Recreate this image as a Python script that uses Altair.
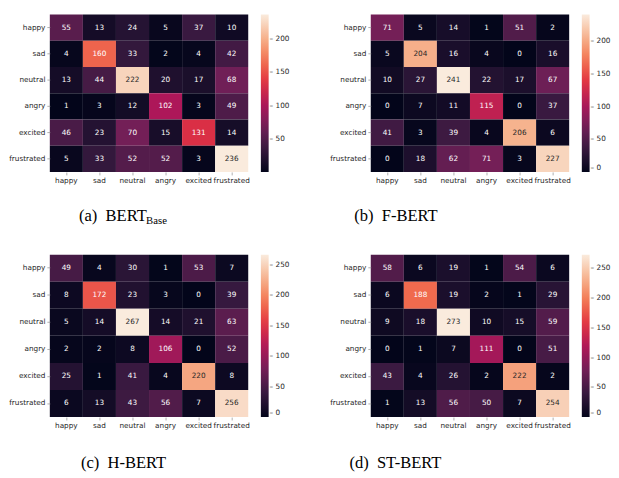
import altair as alt
import pandas as pd

LABELS = ["happy", "sad", "neutral", "angry", "excited", "frustrated"]

BERT_BASE = [[55, 13, 24, 5, 37, 10],
             [4, 160, 33, 2, 4, 42],
             [13, 44, 222, 20, 17, 68],
             [1, 3, 12, 102, 3, 49],
             [46, 23, 70, 15, 131, 14],
             [5, 33, 52, 52, 3, 236]]
F_BERT = [[71, 5, 14, 1, 51, 2],
          [5, 204, 16, 4, 0, 16],
          [10, 27, 241, 22, 17, 67],
          [0, 7, 11, 115, 0, 37],
          [41, 3, 39, 4, 206, 6],
          [0, 18, 62, 71, 3, 227]]
H_BERT = [[49, 4, 30, 1, 53, 7],
          [8, 172, 23, 3, 0, 39],
          [5, 14, 267, 14, 21, 63],
          [2, 2, 8, 106, 0, 52],
          [25, 1, 41, 4, 220, 8],
          [6, 13, 43, 56, 7, 256]]
ST_BERT = [[58, 6, 19, 1, 54, 6],
           [6, 188, 19, 2, 1, 29],
           [9, 18, 273, 10, 15, 59],
           [0, 1, 7, 111, 0, 51],
           [43, 4, 26, 2, 222, 2],
           [1, 13, 56, 50, 7, 254]]

LEGEND_TICKS = [[50, 100, 150, 200],
                [0, 50, 100, 150, 200],
                [0, 50, 100, 150, 200, 250],
                [0, 50, 100, 150, 200, 250]]

CAPTIONS = [("(a)\u2002BERT", "Base"),
            ("(b)\u2002F-BERT", ""),
            ("(c)\u2002H-BERT", ""),
            ("(d)\u2002ST-BERT", "")]

# seaborn "rocket" colormap stops
ROCKET = ["#03051a", "#35193e", "#701f57", "#ad1759",
          "#e13342", "#f37651", "#f6b48f", "#faebdd"]

TXT = "#262626"
FONT = "DejaVu Sans"
SERIF = "Liberation Serif"


def panel(matrix, ticks, caption, h, cap_x, cap_y, sub_x):
    rows = []
    for i, actual in enumerate(LABELS):
        for j, pred in enumerate(LABELS):
            rows.append({"actual": actual, "pred": pred, "n": matrix[i][j]})
    df = pd.DataFrame(rows)
    lo, hi = int(df.n.min()), int(df.n.max())
    df["frac"] = (df.n - lo) / (hi - lo)
    dom = [lo + (hi - lo) * k / 7 for k in range(8)]

    axis_common = dict(labelFontSize=7.5, labelFont=FONT, labelColor=TXT,
                       domain=False, tickSize=3, tickColor="#999999",
                       tickWidth=0.8, labelPadding=2, title=None)
    base = alt.Chart(df).encode(
        x=alt.X("pred:N", sort=LABELS, title=None,
                scale=alt.Scale(paddingInner=0, paddingOuter=0),
                axis=alt.Axis(labelAngle=0, **axis_common)),
        y=alt.Y("actual:N", sort=LABELS, title=None,
                scale=alt.Scale(paddingInner=0, paddingOuter=0),
                axis=alt.Axis(**axis_common)),
    )
    rect = base.mark_rect().encode(
        color=alt.Color(
            "n:Q",
            scale=alt.Scale(domain=dom, range=ROCKET, interpolate="rgb"),
            legend=alt.Legend(values=ticks, title=None, orient="right",
                              direction="vertical", offset=13,
                              gradientLength=h, gradientThickness=8,
                              gradientStrokeWidth=0, labelFontSize=7.5,
                              labelFont=FONT, labelColor=TXT,
                              labelBaseline="middle", labelOffset=1,
                              labelExpr="'\u2013 ' + datum.label",
                              padding=0)))
    text = base.mark_text(font=FONT, fontSize=7.5).encode(
        text="n:Q",
        color=alt.condition("datum.frac > 0.76", alt.value(TXT), alt.value("white")))

    main, sub = caption
    cap = alt.Chart(pd.DataFrame({"t": [main]})).mark_text(
        align="left", baseline="alphabetic", font=SERIF,
        fontSize=17, color="black").encode(
        x=alt.value(cap_x), y=alt.value(cap_y), text="t:N")
    layers = [rect, text, cap]
    if sub:
        sc = alt.Chart(pd.DataFrame({"t": [sub]})).mark_text(
            align="left", baseline="alphabetic", font=SERIF,
            fontSize=11, color="black").encode(
            x=alt.value(sub_x), y=alt.value(cap_y + 3), text="t:N")
        layers.append(sc)
    return alt.layer(*layers).properties(width=204, height=h)


pa = panel(BERT_BASE, LEGEND_TICKS[0], CAPTIONS[0], 162, 30, 212, 99)
pb = panel(F_BERT, LEGEND_TICKS[1], CAPTIONS[1], 162, -17, 212, 0)
pc = panel(H_BERT, LEGEND_TICKS[2], CAPTIONS[2], 167, 32, 219, 0)
pd_ = panel(ST_BERT, LEGEND_TICKS[3], CAPTIONS[3], 167, -22, 219, 0)

row1 = alt.hconcat(pa, pb, spacing=40).resolve_scale(color="independent")
row2 = alt.hconcat(pc, pd_, spacing=40).resolve_scale(color="independent")

chart = alt.vconcat(row1, row2, spacing=30).resolve_scale(
    color="independent").properties(padding=0).configure_view(stroke=None)

chart.save("out.html", embed_options={"renderer": "svg", "actions": False})
